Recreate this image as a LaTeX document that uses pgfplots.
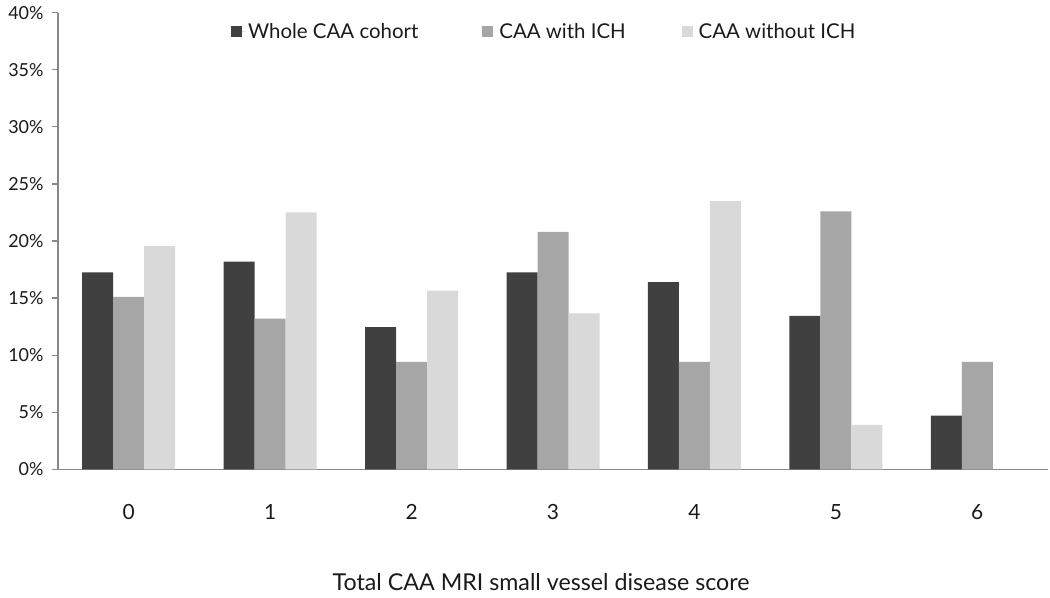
\documentclass[border=0pt]{standalone}
\usepackage{fontspec}
\setmainfont{Lato}
\usepackage{pgfplots}
\pgfplotsset{compat=1.18}
\definecolor{cdark}{HTML}{404040}
\definecolor{cmid}{HTML}{A6A6A6}
\definecolor{clight}{HTML}{D9D9D9}
\definecolor{caxis}{HTML}{888888}
\definecolor{ctext}{HTML}{1A1A1A}
\begin{document}
\begin{tikzpicture}
\path[use as bounding box] (0,0) rectangle (1050bp,598bp);
\begin{axis}[
  at={(58bp,128.7bp)}, anchor=south west,
  scale only axis, width=990bp, height=456.6bp,
  font=\fontsize{18}{21}\selectfont, text=ctext,
  xmin=-0.5, xmax=6.5, ymin=0, ymax=40,
  axis x line*=bottom, axis y line*=left,
  axis line style={caxis, line width=1.2bp, -},
  ybar=0pt, bar width=31bp,
  xtick={0,...,6}, xticklabels={0,1,2,3,4,5,6},
  xtick style={draw=none},
  xticklabel style={anchor=center, yshift=-37bp, font=\fontsize{21}{24}\selectfont},
  ytick={0,5,...,40},
  yticklabels={0\%,5\%,10\%,15\%,20\%,25\%,30\%,35\%,40\%},
  ytick style={caxis, line width=1.2bp},
  tick align=outside, major tick length=6bp,
  yticklabel style={anchor=east, xshift=-5bp},
  xlabel={Total CAA MRI small vessel disease score},
  xlabel style={at={(axis description cs:0.488,-0.248)}, anchor=center, font=\fontsize{23.3}{27}\selectfont},
  legend style={draw=none, fill=none, inner sep=0pt, at={(0.1747,0.958)}, anchor=west,
    legend columns=3, font=\fontsize{20.5}{24}\selectfont, text=ctext},
  legend image code/.code={\fill[#1] (0bp,-5.5bp) rectangle (11bp,5.5bp); \path (0bp,0bp) -- (15bp,0bp);},
  every axis plot/.append style={draw=none},
]
\addplot[fill=cdark] coordinates {(0,17.25) (1,18.2) (2,12.45) (3,17.25) (4,16.4) (5,13.45) (6,4.7)};
\addplot[fill=cmid] coordinates {(0,15.1) (1,13.2) (2,9.4) (3,20.8) (4,9.4) (5,22.6) (6,9.4)};
\addplot[fill=clight] coordinates {(0,19.55) (1,22.5) (2,15.65) (3,13.65) (4,23.5) (5,3.9)};
\legend{Whole CAA cohort\kern62bp, CAA with ICH\kern54bp, CAA without ICH}
\end{axis}
\end{tikzpicture}
\end{document}
